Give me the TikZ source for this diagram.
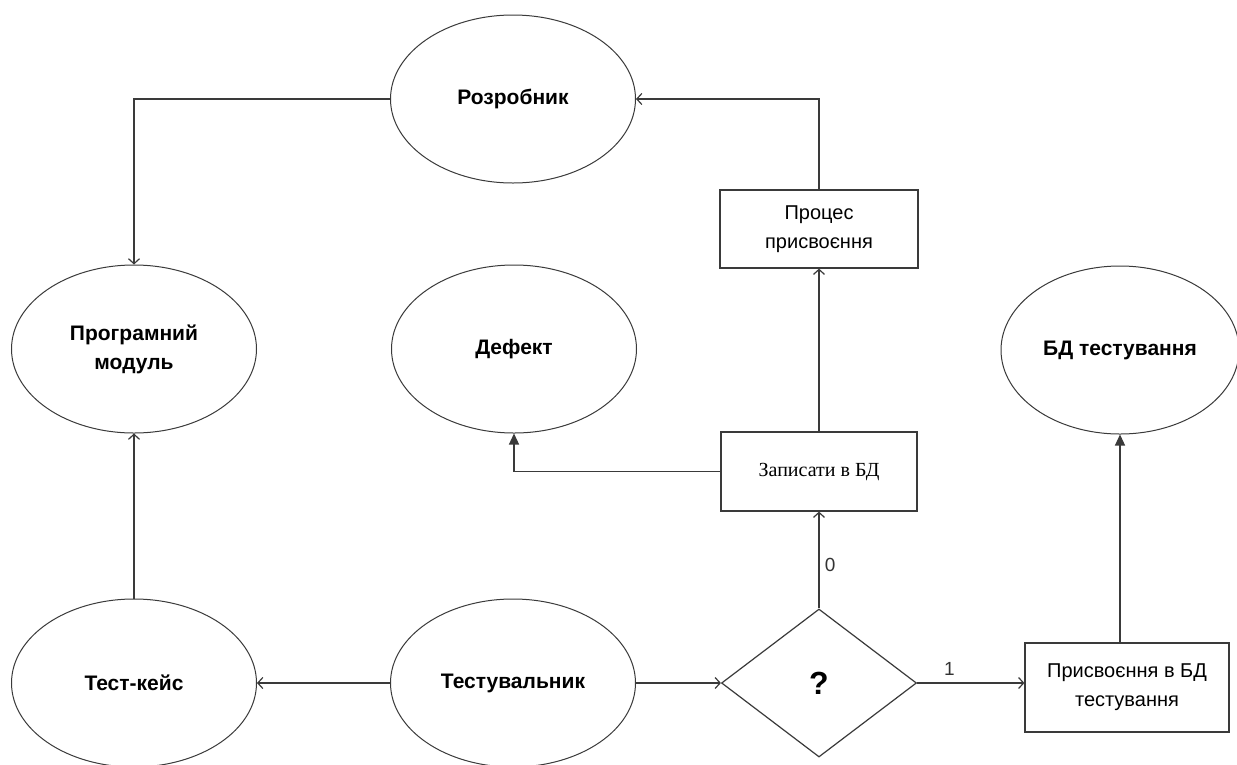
\documentclass[tikz,border=0pt]{standalone}
\usepackage{fontspec}
\setmainfont{Liberation Sans}
\newfontfamily\serifcyr{Liberation Serif}
\usetikzlibrary{shapes.geometric,arrows.meta}
\definecolor{ink}{HTML}{3A3A3A}
\tikzset{
  entity/.style={ellipse,draw=ink,line width=1pt,minimum width=245pt,minimum height=168pt,inner sep=0pt,
    align=center,font=\fontsize{21}{29}\selectfont\bfseries},
  procbox/.style={rectangle,draw=ink,line width=1.2pt,inner sep=0pt,align=center,
    font=\fontsize{20}{29}\selectfont},
  choice/.style={diamond,draw=ink,line width=1.2pt,inner sep=0pt,minimum width=195pt,minimum height=148pt,
    font=\fontsize{32}{36}\selectfont\bfseries},
  flow/.style={draw=ink,line width=1.2pt},
  openarr/.style={flow,-{Straight Barb[length=5pt,width=11pt]}},
  solidarr/.style={flow,-{Triangle[length=11pt,width=10pt]}},
  edgelbl/.style={font=\fontsize{19}{21}\selectfont,text=black!80}
}
\begin{document}
\begin{tikzpicture}[x=1pt,y=-1pt]
\useasboundingbox (0,0) rectangle (1237,764);
\fill[white] (0,0) rectangle (1237,764);

% ellipses
\node[entity] (dev)  at (513,99)  {Розробник};
\node[entity] (mod)  at (134,349) {Програмний\\модуль};
\node[entity] (bug)  at (514,349) {Дефект};
\node[entity,minimum width=238pt] (tdb) at (1120,350) {БД тестування};
\node[entity] (case) at (134,683) {Тест-кейс};
\node[entity] (tst)  at (513,683) {Тестувальник};

% process boxes
\node[procbox,minimum width=198pt,minimum height=78pt] (assign) at (819,229) {Процес\\присвоєння};
\node[procbox,minimum width=196pt,minimum height=79pt,font=\fontsize{20}{24}\selectfont\serifcyr] (write) at (819,471.5) {Записати в БД};
\node[procbox,minimum width=204pt,minimum height=89pt] (tdbput) at (1127,687.5) {Присвоєння в БД\\тестування};

% decision
\node[choice] (q) at (819,683) {?};

% connectors
\draw[openarr] (dev.west) -| (mod.north);
\draw[openarr] (assign.north) |- (dev.east);
\draw[openarr] (write.north) -- (assign.south);
\draw[solidarr] (write.west) -| (bug.south);
\draw[openarr] (q.north) -- node[edgelbl,right,pos=0.45,xshift=2pt] {0} (write.south);
\draw[openarr] (q.east) -- node[edgelbl,above,pos=0.3,yshift=4pt] {1} (q.east -| tdbput.west);
\draw[solidarr] (tdbput.north -| tdb.south) -- (tdb.south);
\draw[openarr] (tst.east) -- (q.west);
\draw[openarr] (tst.west) -- (case.east);
\draw[openarr] (case.north) -- (mod.south);
\end{tikzpicture}
\end{document}
